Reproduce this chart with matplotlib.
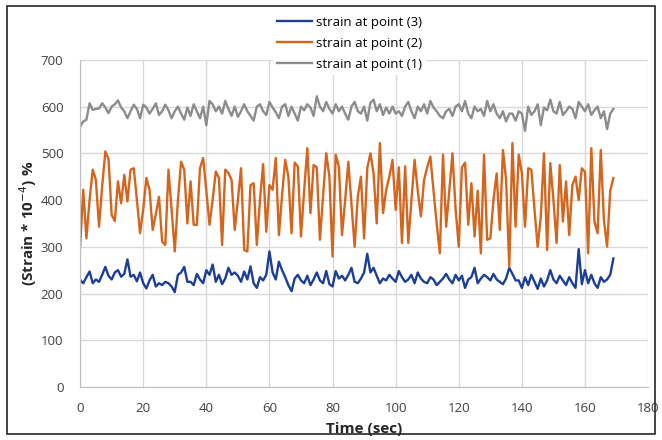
import matplotlib.pyplot as plt
from matplotlib.patches import Rectangle

# time in seconds, one reading per second
time_sec = list(range(170))

strain_p3 = [229, 222, 235, 247, 222, 230, 225, 240, 257, 238, 230, 245, 250, 236, 242, 273, 236, 240, 226, 245,
             222, 211, 228, 240, 215, 222, 218, 225, 222, 215, 203, 240, 245, 257, 225, 225, 218, 242, 230, 222,
             250, 240, 262, 225, 240, 220, 232, 255, 240, 245, 238, 225, 247, 230, 258, 222, 212, 235, 228, 240,
             290, 245, 230, 268, 250, 235, 218, 205, 232, 240, 228, 222, 238, 218, 230, 245, 228, 222, 248, 220,
             215, 248, 232, 238, 228, 240, 255, 225, 222, 232, 245, 285, 245, 255, 238, 222, 232, 228, 240, 232,
             225, 248, 235, 225, 230, 240, 222, 245, 232, 225, 222, 235, 230, 218, 225, 232, 242, 230, 222, 240,
             228, 238, 212, 230, 235, 255, 222, 232, 240, 235, 228, 242, 230, 225, 220, 232, 255, 242, 228, 228,
             212, 235, 218, 240, 225, 210, 232, 215, 228, 250, 230, 222, 238, 228, 218, 235, 222, 212, 295, 220,
             250, 222, 240, 222, 212, 235, 225, 230, 240, 275]

strain_p2 = [300, 422, 318, 400, 465, 443, 343, 430, 504, 488, 368, 355, 440, 393, 454, 397, 465, 468, 400, 329,
             380, 447, 422, 336, 370, 407, 311, 304, 465, 380, 290, 400, 482, 465, 350, 440, 347, 347, 468, 490,
             420, 347, 400, 461, 447, 304, 465, 458, 443, 336, 400, 468, 293, 290, 432, 436, 304, 400, 477, 332,
             432, 422, 490, 325, 410, 486, 450, 329, 480, 472, 322, 420, 511, 372, 475, 470, 315, 410, 500, 450,
             279, 497, 472, 325, 400, 482, 390, 300, 407, 450, 318, 468, 500, 457, 350, 522, 372, 422, 450, 486,
             379, 470, 308, 472, 308, 400, 486, 420, 365, 443, 470, 493, 420, 350, 286, 497, 343, 420, 500, 380,
             300, 470, 480, 347, 436, 322, 420, 286, 497, 315, 318, 400, 457, 336, 507, 443, 257, 522, 343, 497,
             457, 343, 468, 465, 380, 300, 365, 500, 293, 479, 400, 308, 475, 354, 440, 325, 432, 450, 400, 468,
             460, 286, 511, 354, 329, 507, 357, 300, 420, 447]

strain_p1 = [557, 568, 572, 607, 593, 595, 596, 607, 598, 586, 600, 605, 613, 598, 590, 575, 590, 604, 595, 575,
             604, 598, 585, 595, 607, 582, 590, 604, 592, 575, 590, 600, 585, 572, 598, 580, 605, 590, 575, 600,
             560, 612, 605, 590, 600, 585, 612, 595, 580, 600, 578, 590, 605, 590, 580, 570, 600, 605, 590, 582,
             610, 598, 588, 575, 600, 605, 580, 600, 585, 570, 600, 592, 605, 598, 580, 622, 600, 590, 610, 595,
             585, 605, 590, 600, 585, 572, 600, 610, 590, 585, 600, 570, 608, 615, 590, 605, 582, 598, 585, 600,
             585, 590, 580, 600, 610, 590, 575, 600, 590, 605, 585, 612, 598, 590, 580, 575, 590, 595, 580, 600,
             605, 590, 612, 585, 575, 600, 590, 595, 580, 612, 590, 605, 585, 575, 590, 568, 585, 585, 570, 590,
             585, 548, 600, 582, 590, 605, 560, 598, 592, 615, 590, 585, 610, 582, 590, 600, 595, 575, 610, 600,
             590, 605, 582, 592, 600, 575, 590, 552, 585, 595]

x_ticks = list(range(0, 181, 20))
y_ticks = list(range(0, 701, 100))

plt.rcParams['font.family'] = ['Open Sans', 'DejaVu Sans']

fig = plt.figure(figsize=(6.62, 4.40), dpi=100)
ax = fig.add_axes([0.121, 0.1205, 0.858, 0.7435])

ax.plot(time_sec, strain_p3, color='#1B3F94', lw=1.7, label='strain at point (3)')
ax.plot(time_sec, strain_p2, color='#D5651C', lw=1.7, label='strain at point (2)')
ax.plot(time_sec, strain_p1, color='#8C8C8C', lw=1.7, label='strain at point (1)')

ax.set_xlim(0, 180)
ax.set_ylim(0, 700)
ax.set_xticks(x_ticks)
ax.set_yticks(y_ticks)
ax.grid(True, color='#D9D9D9', lw=1)
ax.set_axisbelow(True)
for side in ['top', 'right']:
    ax.spines[side].set_visible(False)
for side in ['left', 'bottom']:
    ax.spines[side].set_color('#BFBFBF')
ax.tick_params(length=0, labelsize=9.5, labelcolor='#404040')
ax.tick_params(axis='x', pad=11)
ax.tick_params(axis='y', pad=12)

ax.set_xlabel('Time (sec)', fontsize=11, fontweight='bold', color='#262626', labelpad=5)
ax.set_ylabel('(Strain * 10$^{-4}$) %', fontsize=11, fontweight='bold', color='#262626', labelpad=1)

leg = fig.legend(loc='upper center', bbox_to_anchor=(0.528, 0.988), fontsize=9.5,
                 frameon=True, facecolor='white', edgecolor='none', framealpha=1,
                 handlelength=2.6, handletextpad=0.3, labelspacing=0.6, borderpad=0.3)
leg.get_frame().set_boxstyle('square', pad=0)

# outer chart border
fig.patches.append(Rectangle((7 / 662, 6 / 440), 648 / 662, 428 / 440, transform=fig.transFigure,
                             fill=False, edgecolor='#262626', lw=1.2))

fig.savefig('out.png', dpi=100)
